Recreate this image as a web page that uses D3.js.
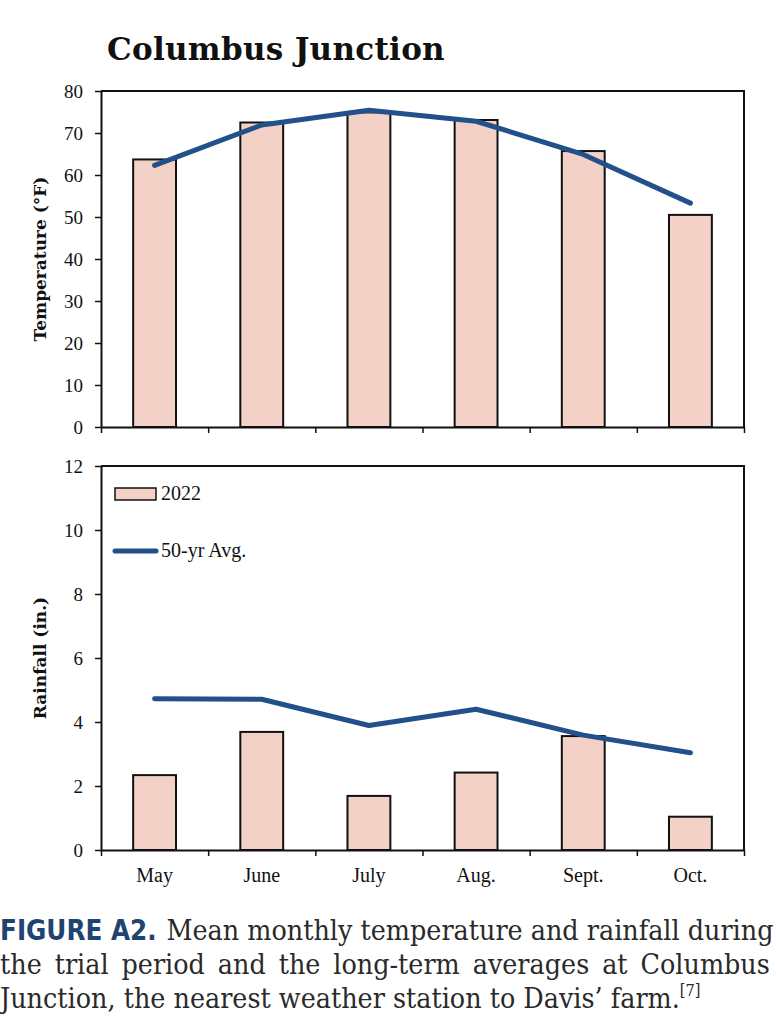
<!DOCTYPE html>
<html>
<head>
<meta charset="utf-8">
<script src="https://cdn.jsdelivr.net/npm/d3@7"></script>
<style>
  body { margin: 0; background: #fff; }
  #chart { position: absolute; left: 0; top: 0; }
  #caption {
    position: absolute; left: 0; top: 914px; width: 846px;
    transform: scaleX(0.91); transform-origin: 0 0;
    font-family: "DejaVu Serif", serif; font-size: 28px; color: #2a2a2a;
    line-height: 34px;
  }
  #caption .jl { text-align: justify; text-align-last: justify; white-space: nowrap; }
  #caption .fig { display: inline-block; width: 174px; white-space: nowrap; }
  #caption .fig span {
    display: inline-block; transform: scaleX(0.97); transform-origin: 0 50%;
    font-family: "DejaVu Sans", sans-serif; font-weight: bold; font-size: 28px; color: #1f4470;
  }
  #caption sup { font-size: 16px; vertical-align: 12px; line-height: 0; }
</style>
</head>
<body>
<svg id="chart" width="776" height="905"></svg>
<div id="caption">
  <div class="jl"><span class="fig"><span>FIGURE A2.</span></span> Mean monthly temperature and rainfall during</div>
  <div class="jl">the trial period and the long-term averages at Columbus</div>
  <div>Junction, the nearest weather station to Davis’ farm.<sup>[7]</sup></div>
</div>
<script>
// Data
const months = ["May", "June", "July", "Aug.", "Sept.", "Oct."];
const temp2022 = [63.7, 72.5, 74.9, 73.1, 65.7, 50.5];
const tempAvg = [62.3, 71.9, 75.4, 72.8, 64.9, 53.3];
const rain2022 = [2.34, 3.69, 1.69, 2.42, 3.56, 1.04];
const rainAvg = [4.73, 4.71, 3.89, 4.40, 3.59, 3.04];
const tempTicks = d3.range(0, 81, 10);
const rainTicks = d3.range(0, 13, 2);

const svg = d3.select("#chart");
const left = 101, right = 744;
const barFill = "#f3d1c7";
const lineColor = "#22508a";
const serif = "Liberation Serif, serif";

// Bars and line points share the same band scale
const x = d3.scaleBand().domain(months).range([left, right])
    .paddingInner(0.6).paddingOuter(0.3);
const xEdge = d3.scaleLinear().domain([0, months.length]).range([left, right]);

// Title
svg.append("text")
    .attr("x", 107)
    .attr("y", 60)
    .style("font-family", "DejaVu Serif, serif")
    .style("font-weight", "bold")
    .style("font-size", "31px")
    .style("letter-spacing", "0.3px")
    .attr("fill", "#111")
    .text("Columbus Junction");

function panel(top, bottom, domainMax, ticks, bars, avg, label) {
    const y = d3.scaleLinear().domain([0, domainMax]).range([bottom, top]);
    const g = svg.append("g");

    // Frame: top and right border
    g.append("path")
        .attr("d", `M${left},${top}H${right}V${bottom}`)
        .attr("fill", "none")
        .attr("stroke", "#111")
        .attr("stroke-width", 2);

    // Bars
    g.selectAll(".bar")
        .data(bars)
        .enter().append("rect")
        .attr("x", (d, i) => x(months[i]))
        .attr("y", d => y(d))
        .attr("width", x.bandwidth())
        .attr("height", d => y(0) - y(d))
        .attr("fill", barFill)
        .attr("stroke", "#111")
        .attr("stroke-width", 2);

    // Long-term average line
    const line = d3.line()
        .x((d, i) => x(months[i]) + x.bandwidth() / 2)
        .y(d => y(d));
    g.append("path")
        .datum(avg)
        .attr("d", line)
        .attr("fill", "none")
        .attr("stroke", lineColor)
        .attr("stroke-width", 5)
        .attr("stroke-linecap", "round")
        .attr("stroke-linejoin", "round");

    // Y axis
    const yAxis = g.append("g")
        .attr("transform", `translate(${left},0)`)
        .call(d3.axisLeft(y).tickValues(ticks).tickSize(6).tickSizeOuter(0).tickPadding(12));
    yAxis.select(".domain").attr("stroke", "#111").attr("stroke-width", 2);
    yAxis.selectAll(".tick line").attr("stroke", "#111").attr("stroke-width", 1.5);
    yAxis.selectAll(".tick text")
        .style("font-family", serif)
        .style("font-size", "19px")
        .attr("fill", "#111");

    // X axis: ticks at category boundaries
    const xAxis = g.append("g")
        .attr("transform", `translate(0,${bottom})`)
        .call(d3.axisBottom(xEdge).tickValues(d3.range(0, months.length + 1))
            .tickSize(6).tickSizeOuter(0).tickFormat(""));
    xAxis.select(".domain").attr("stroke", "#111").attr("stroke-width", 2);
    xAxis.selectAll(".tick line").attr("stroke", "#111").attr("stroke-width", 1.5);

    // Y label
    g.append("text")
        .attr("transform", `translate(46,${(top + bottom) / 2}) rotate(-90)`)
        .attr("text-anchor", "middle")
        .style("font-family", "DejaVu Serif, serif")
        .style("font-weight", "bold")
        .style("font-size", "17px")
        .attr("fill", "#111")
        .text(label);
    return y;
}

panel(91, 427, 80, tempTicks, temp2022, tempAvg, "Temperature (°F)");
panel(466, 850, 12, rainTicks, rain2022, rainAvg, "Rainfall (in.)");

// Month labels
svg.append("g").selectAll("text")
    .data(months)
    .enter().append("text")
    .attr("x", d => x(d) + x.bandwidth() / 2)
    .attr("y", 882)
    .attr("text-anchor", "middle")
    .style("font-family", serif)
    .style("font-size", "20px")
    .attr("fill", "#111")
    .text(d => d);

// Legend
const legend = svg.append("g");
legend.append("rect")
    .attr("x", 115).attr("y", 488)
    .attr("width", 41).attr("height", 12)
    .attr("fill", barFill)
    .attr("stroke", "#111")
    .attr("stroke-width", 1.5);
legend.append("text")
    .attr("x", 161).attr("y", 500)
    .style("font-family", serif)
    .style("font-size", "20px")
    .attr("fill", "#111")
    .text("2022");
legend.append("line")
    .attr("x1", 115).attr("x2", 156)
    .attr("y1", 551).attr("y2", 551)
    .attr("stroke", lineColor)
    .attr("stroke-width", 5)
    .attr("stroke-linecap", "round");
legend.append("text")
    .attr("x", 161).attr("y", 557)
    .style("font-family", serif)
    .style("font-size", "20px")
    .attr("fill", "#111")
    .text("50-yr Avg.");
</script>
</body>
</html>
